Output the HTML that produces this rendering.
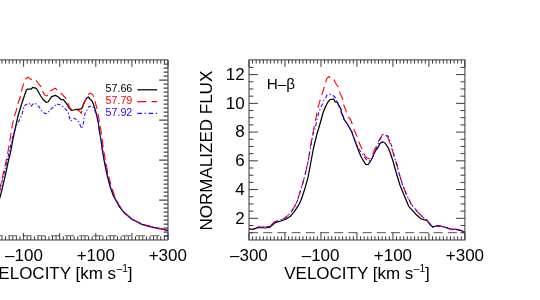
<!DOCTYPE html>
<html><head><meta charset="utf-8"><title>chart</title><style>html,body{margin:0;padding:0;background:#fff}body{width:540px;height:300px;overflow:hidden}</style></head><body><div style="will-change:transform;width:540px;height:300px">
<svg width="540" height="300" viewBox="0 0 540 300" style="display:block;font-family:'Liberation Sans',sans-serif">

<path d="M1.94,59.9v3.7M1.94,240.0v-3.7M5.55,59.9v3.7M5.55,240.0v-3.7M9.16,59.9v3.7M9.16,240.0v-3.7M12.77,59.9v3.7M12.77,240.0v-3.7M16.38,59.9v3.7M16.38,240.0v-3.7M19.99,59.9v3.7M19.99,240.0v-3.7M23.60,59.9v7.0M23.60,240.0v-7.0M27.21,59.9v3.7M27.21,240.0v-3.7M30.82,59.9v3.7M30.82,240.0v-3.7M34.43,59.9v3.7M34.43,240.0v-3.7M38.04,59.9v3.7M38.04,240.0v-3.7M41.65,59.9v3.7M41.65,240.0v-3.7M45.26,59.9v3.7M45.26,240.0v-3.7M48.87,59.9v3.7M48.87,240.0v-3.7M52.48,59.9v3.7M52.48,240.0v-3.7M56.09,59.9v3.7M56.09,240.0v-3.7M59.70,59.9v7.0M59.70,240.0v-7.0M63.31,59.9v3.7M63.31,240.0v-3.7M66.92,59.9v3.7M66.92,240.0v-3.7M70.53,59.9v3.7M70.53,240.0v-3.7M74.14,59.9v3.7M74.14,240.0v-3.7M77.75,59.9v3.7M77.75,240.0v-3.7M81.36,59.9v3.7M81.36,240.0v-3.7M84.97,59.9v3.7M84.97,240.0v-3.7M88.58,59.9v3.7M88.58,240.0v-3.7M92.19,59.9v3.7M92.19,240.0v-3.7M95.80,59.9v7.0M95.80,240.0v-7.0M99.41,59.9v3.7M99.41,240.0v-3.7M103.02,59.9v3.7M103.02,240.0v-3.7M106.63,59.9v3.7M106.63,240.0v-3.7M110.24,59.9v3.7M110.24,240.0v-3.7M113.85,59.9v3.7M113.85,240.0v-3.7M117.46,59.9v3.7M117.46,240.0v-3.7M121.07,59.9v3.7M121.07,240.0v-3.7M124.68,59.9v3.7M124.68,240.0v-3.7M128.29,59.9v3.7M128.29,240.0v-3.7M131.90,59.9v7.0M131.90,240.0v-7.0M135.51,59.9v3.7M135.51,240.0v-3.7M139.12,59.9v3.7M139.12,240.0v-3.7M142.73,59.9v3.7M142.73,240.0v-3.7M146.34,59.9v3.7M146.34,240.0v-3.7M149.95,59.9v3.7M149.95,240.0v-3.7M153.56,59.9v3.7M153.56,240.0v-3.7M157.17,59.9v3.7M157.17,240.0v-3.7M160.78,59.9v3.7M160.78,240.0v-3.7M164.39,59.9v3.7M164.39,240.0v-3.7M168.00,59.9v7.0M168.00,240.0v-7.0M249.00,59.9v7.0M249.00,240.0v-7.0M252.60,59.9v3.7M252.60,240.0v-3.7M256.20,59.9v3.7M256.20,240.0v-3.7M259.80,59.9v3.7M259.80,240.0v-3.7M263.39,59.9v3.7M263.39,240.0v-3.7M266.99,59.9v3.7M266.99,240.0v-3.7M270.59,59.9v3.7M270.59,240.0v-3.7M274.19,59.9v3.7M274.19,240.0v-3.7M277.79,59.9v3.7M277.79,240.0v-3.7M281.38,59.9v3.7M281.38,240.0v-3.7M284.98,59.9v7.0M284.98,240.0v-7.0M288.58,59.9v3.7M288.58,240.0v-3.7M292.18,59.9v3.7M292.18,240.0v-3.7M295.78,59.9v3.7M295.78,240.0v-3.7M299.38,59.9v3.7M299.38,240.0v-3.7M302.98,59.9v3.7M302.98,240.0v-3.7M306.57,59.9v3.7M306.57,240.0v-3.7M310.17,59.9v3.7M310.17,240.0v-3.7M313.77,59.9v3.7M313.77,240.0v-3.7M317.37,59.9v3.7M317.37,240.0v-3.7M320.97,59.9v7.0M320.97,240.0v-7.0M324.56,59.9v3.7M324.56,240.0v-3.7M328.16,59.9v3.7M328.16,240.0v-3.7M331.76,59.9v3.7M331.76,240.0v-3.7M335.36,59.9v3.7M335.36,240.0v-3.7M338.96,59.9v3.7M338.96,240.0v-3.7M342.56,59.9v3.7M342.56,240.0v-3.7M346.15,59.9v3.7M346.15,240.0v-3.7M349.75,59.9v3.7M349.75,240.0v-3.7M353.35,59.9v3.7M353.35,240.0v-3.7M356.95,59.9v7.0M356.95,240.0v-7.0M360.55,59.9v3.7M360.55,240.0v-3.7M364.15,59.9v3.7M364.15,240.0v-3.7M367.75,59.9v3.7M367.75,240.0v-3.7M371.34,59.9v3.7M371.34,240.0v-3.7M374.94,59.9v3.7M374.94,240.0v-3.7M378.54,59.9v3.7M378.54,240.0v-3.7M382.14,59.9v3.7M382.14,240.0v-3.7M385.74,59.9v3.7M385.74,240.0v-3.7M389.33,59.9v3.7M389.33,240.0v-3.7M392.93,59.9v7.0M392.93,240.0v-7.0M396.53,59.9v3.7M396.53,240.0v-3.7M400.13,59.9v3.7M400.13,240.0v-3.7M403.73,59.9v3.7M403.73,240.0v-3.7M407.33,59.9v3.7M407.33,240.0v-3.7M410.92,59.9v3.7M410.92,240.0v-3.7M414.52,59.9v3.7M414.52,240.0v-3.7M418.12,59.9v3.7M418.12,240.0v-3.7M421.72,59.9v3.7M421.72,240.0v-3.7M425.32,59.9v3.7M425.32,240.0v-3.7M428.92,59.9v7.0M428.92,240.0v-7.0M432.51,59.9v3.7M432.51,240.0v-3.7M436.11,59.9v3.7M436.11,240.0v-3.7M439.71,59.9v3.7M439.71,240.0v-3.7M443.31,59.9v3.7M443.31,240.0v-3.7M446.91,59.9v3.7M446.91,240.0v-3.7M450.51,59.9v3.7M450.51,240.0v-3.7M454.10,59.9v3.7M454.10,240.0v-3.7M457.70,59.9v3.7M457.70,240.0v-3.7M461.30,59.9v3.7M461.30,240.0v-3.7M464.90,59.9v7.0M464.90,240.0v-7.0M249.0,232.67h4.4M464.9,232.67h-4.4M249.0,225.49h4.4M464.9,225.49h-4.4M249.0,218.30h8.8M464.9,218.30h-8.8M249.0,211.12h4.4M464.9,211.12h-4.4M249.0,203.93h4.4M464.9,203.93h-4.4M249.0,196.75h4.4M464.9,196.75h-4.4M249.0,189.56h8.8M464.9,189.56h-8.8M249.0,182.38h4.4M464.9,182.38h-4.4M249.0,175.19h4.4M464.9,175.19h-4.4M249.0,168.01h4.4M464.9,168.01h-4.4M249.0,160.82h8.8M464.9,160.82h-8.8M249.0,153.64h4.4M464.9,153.64h-4.4M249.0,146.45h4.4M464.9,146.45h-4.4M249.0,139.27h4.4M464.9,139.27h-4.4M249.0,132.08h8.8M464.9,132.08h-8.8M249.0,124.90h4.4M464.9,124.90h-4.4M249.0,117.71h4.4M464.9,117.71h-4.4M249.0,110.53h4.4M464.9,110.53h-4.4M249.0,103.34h8.8M464.9,103.34h-8.8M249.0,96.16h4.4M464.9,96.16h-4.4M249.0,88.97h4.4M464.9,88.97h-4.4M249.0,81.79h4.4M464.9,81.79h-4.4M249.0,74.60h8.8M464.9,74.60h-8.8M249.0,67.42h4.4M464.9,67.42h-4.4" stroke="#383838" stroke-width="1.0" fill="none"/>
<path d="M168.0,64.10h-4.4M168.0,68.10h-4.4M168.0,72.10h-4.4M168.0,76.10h-4.4M168.0,80.10h-8.8M168.0,84.10h-4.4M168.0,88.10h-4.4M168.0,92.10h-4.4M168.0,96.10h-4.4M168.0,100.10h-4.4M168.0,104.10h-4.4M168.0,108.10h-4.4M168.0,112.10h-4.4M168.0,116.10h-4.4M168.0,120.10h-8.8M168.0,124.10h-4.4M168.0,128.10h-4.4M168.0,132.10h-4.4M168.0,136.10h-4.4M168.0,140.10h-4.4M168.0,144.10h-4.4M168.0,148.10h-4.4M168.0,152.10h-4.4M168.0,156.10h-4.4M168.0,160.10h-8.8M168.0,164.10h-4.4M168.0,168.10h-4.4M168.0,172.10h-4.4M168.0,176.10h-4.4M168.0,180.10h-4.4M168.0,184.10h-4.4M168.0,188.10h-4.4M168.0,192.10h-4.4M168.0,196.10h-4.4M168.0,200.10h-8.8M168.0,204.10h-4.4M168.0,208.10h-4.4M168.0,212.10h-4.4M168.0,216.10h-4.4M168.0,220.10h-4.4M168.0,224.10h-4.4M168.0,228.10h-4.4M168.0,232.10h-4.4M168.0,236.10h-4.4" stroke="#444" stroke-width="1.15" fill="none"/>
<path d="M-5,59.9H168.0V240.0H-5" stroke="#383838" stroke-width="1.0" fill="none"/>
<rect x="249.0" y="59.9" width="215.89999999999998" height="180.1" stroke="#383838" stroke-width="1.0" fill="none"/>
<path d="M249.0,232.67H464.9" stroke="#383838" stroke-width="0.85" stroke-dasharray="9.1 5.1" fill="none"/>
<path d="M-48.6,235.8H168.0" stroke="#383838" stroke-width="0.85" stroke-dasharray="9.1 5.1" fill="none"/>
<clipPath id="cl"><rect x="0" y="60" width="168" height="180"/></clipPath>
<g clip-path="url(#cl)">
<polyline points="-2.0,205.0 0.0,197.0 1.3,192.3 6.0,172.3 8.7,159.3 10.0,155.0 13.3,137.3 16.0,125.0 18.0,116.0 20.5,107.5 22.3,102.0 24.3,96.0 26.3,90.3 27.7,89.0 31.3,89.0 32.7,87.3 36.3,88.3 38.0,91.0 40.7,96.0 42.7,99.0 46.0,102.3 48.0,102.0 51.7,96.7 55.3,95.3 58.3,97.0 61.3,99.7 63.3,99.7 65.3,102.0 66.0,102.7 68.7,107.3 71.3,110.3 73.7,110.0 76.0,109.3 78.7,109.3 81.7,108.7 84.3,102.0 86.7,98.0 88.3,97.0 90.0,99.0 92.0,101.0 93.7,104.7 95.0,108.7 95.3,110.0 96.7,115.3 98.3,122.0 99.3,130.7 100.7,138.0 102.3,150.0 104.0,160.0 106.0,170.0 107.3,175.7 110.0,186.3 113.3,195.7 116.5,201.5 119.3,206.7 124.7,213.3 132.0,219.3 142.7,224.7 153.3,227.3 161.3,229.0 168.0,230.4" stroke="#000000" stroke-width="1.25" fill="none" stroke-linejoin="round"/>
<polyline points="-2.0,197.0 0.0,188.0 6.7,158.7 10.0,140.0 12.5,124.0 14.7,115.3 16.3,110.3 17.3,105.3 20.3,97.0 21.3,91.7 23.7,83.3 25.3,79.3 28.3,77.0 30.0,79.0 32.0,79.7 35.7,80.0 38.0,83.0 40.7,86.3 42.3,91.0 45.3,95.7 47.3,95.7 50.0,91.0 55.0,88.3 56.3,89.3 60.0,92.3 65.7,98.0 68.0,103.0 70.0,108.0 71.3,109.3 75.3,109.0 77.0,109.7 79.3,111.0 81.3,113.3 83.0,106.0 85.7,99.3 88.0,95.0 89.7,93.0 92.0,94.0 93.7,96.7 95.0,101.3 96.7,107.3 97.3,110.0 98.3,115.3 99.7,123.3 102.0,137.3 103.5,150.0 107.3,170.0 108.6,175.7 111.3,186.3 114.6,195.7 117.0,201.0 120.0,206.7 125.0,213.0 132.0,219.0 142.7,224.2 153.3,227.0 161.3,228.6 168.0,230.0" stroke="#ff0000" stroke-width="1.1" fill="none" stroke-linejoin="round" stroke-dasharray="8.3 4.5" stroke-dashoffset="6.96"/>
<polyline points="-2.0,198.0 0.0,190.0 4.5,172.0 8.5,155.0 12.5,137.3 16.7,125.0 19.5,120.0 21.7,115.3 22.7,111.3 23.3,108.3 24.3,105.7 26.7,104.3 29.3,103.3 31.0,106.3 33.3,103.7 35.3,103.3 37.3,105.0 39.7,107.7 41.3,110.3 43.3,112.3 45.3,113.7 48.0,112.7 49.7,110.3 52.7,107.7 54.3,106.3 56.3,103.7 59.7,104.7 62.3,106.0 64.7,108.3 67.3,111.0 68.7,114.0 69.3,117.3 70.7,121.0 72.7,119.7 74.3,118.3 76.7,119.7 78.7,122.0 80.0,124.7 81.3,128.5 82.7,126.3 83.3,123.3 84.0,119.3 84.5,116.0 85.3,112.3 87.3,109.7 88.7,106.7 91.3,106.0 94.0,108.0 95.3,112.0 97.0,118.0 98.7,125.3 100.7,138.7 102.8,150.0 104.5,160.0 106.5,170.0 107.8,175.7 110.5,186.3 113.8,195.7 116.8,201.5 119.6,206.7 124.9,213.3 132.0,219.5 142.7,225.0 153.3,227.6 161.3,229.3 168.0,230.8" stroke="#4000ff" stroke-width="1.1" fill="none" stroke-linejoin="round" stroke-dasharray="3.6 2 1.4 2" stroke-dashoffset="2.70"/>
</g>
<polyline points="249.0,229.0 253.0,229.4 258.3,227.3 265.0,228.0 269.7,227.3 273.0,224.6 275.7,222.3 281.0,221.0 286.3,219.0 290.3,216.3 294.3,211.7 298.3,205.7 301.0,200.3 304.7,189.3 308.0,177.3 310.0,167.0 313.3,149.0 316.7,134.8 318.5,129.0 320.5,122.0 323.3,112.0 325.3,107.3 327.7,102.3 330.0,99.7 333.7,99.0 335.0,101.7 337.3,102.3 339.3,106.3 341.0,109.0 341.3,112.7 343.3,116.7 344.2,119.7 347.3,124.0 350.0,128.7 351.7,131.7 354.2,138.7 356.0,144.0 358.5,150.5 360.7,156.0 363.3,160.7 365.7,164.3 368.0,164.7 370.0,162.0 372.3,158.0 374.3,153.0 376.0,150.0 378.0,147.6 379.8,143.7 382.3,141.7 385.0,143.0 387.3,146.3 388.3,148.0 390.7,154.3 393.0,161.0 396.0,172.0 400.0,185.3 404.0,195.0 408.7,206.3 415.3,213.7 421.3,219.0 426.7,220.3 430.7,225.0 432.7,227.0 438.0,225.7 444.7,227.0 451.3,229.4 456.7,229.4 460.7,230.3 465.0,232.3" stroke="#000000" stroke-width="1.25" fill="none" stroke-linejoin="round"/>
<polyline points="249.0,229.0 253.0,229.0 258.3,227.0 265.0,226.7 270.3,226.0 273.7,222.3 278.3,220.3 283.7,219.0 287.7,215.7 291.7,211.0 295.0,205.7 297.7,199.7 300.0,192.0 303.3,181.3 306.0,170.7 308.3,160.0 310.0,149.0 312.7,134.3 313.5,130.0 315.7,119.3 318.0,107.7 320.0,100.7 321.7,95.3 324.0,88.0 325.7,82.3 326.7,78.7 328.7,76.5 330.3,77.9 333.7,78.5 335.3,82.7 338.0,86.5 339.3,91.3 342.7,99.3 343.7,104.7 346.7,113.0 349.0,118.0 350.7,119.7 352.3,124.3 354.3,130.0 357.7,138.0 359.3,143.0 363.0,151.0 365.2,156.2 367.5,158.3 369.7,158.7 372.7,154.2 374.3,150.0 376.0,146.7 378.5,141.3 380.5,138.0 382.3,134.7 384.0,134.2 386.0,135.3 387.7,137.3 390.7,145.3 392.7,151.7 395.3,159.7 397.3,165.0 398.7,172.0 402.7,185.3 406.7,195.0 411.3,204.3 418.0,212.3 423.3,217.7 426.7,219.7 430.7,225.0 432.7,227.0 438.0,225.7 444.7,227.0 451.3,229.4 456.7,229.4 460.7,230.3 465.0,232.3" stroke="#ff0000" stroke-width="1.1" fill="none" stroke-linejoin="round" stroke-dasharray="8.6 4.8" stroke-dashoffset="5.25"/>
<polyline points="249.0,229.2 253.0,229.2 258.3,227.2 265.0,226.9 270.3,226.2 273.7,222.5 278.3,220.5 283.7,219.2 287.7,215.9 291.7,211.2 295.0,205.9 297.7,199.9 300.0,192.2 303.3,181.5 306.0,170.9 308.5,160.0 310.3,149.0 313.0,134.3 315.0,128.7 317.0,119.3 319.0,112.0 321.0,106.7 322.7,103.7 323.7,100.3 325.7,98.3 327.0,94.7 330.0,94.3 333.0,95.3 335.7,98.0 337.0,101.3 338.0,104.0 339.7,107.7 341.2,109.5 341.6,112.7 343.5,116.7 344.4,119.7 347.5,124.0 350.2,128.7 351.9,131.7 354.3,139.0 356.7,144.0 358.3,148.0 360.3,151.0 362.7,154.0 364.3,156.5 366.0,159.3 368.3,161.3 369.8,160.8 371.3,159.3 373.3,156.0 375.7,150.2 378.0,144.0 380.3,139.0 383.2,134.3 386.0,135.3 388.3,136.3 389.7,140.5 391.0,144.3 392.3,147.7 393.3,152.0 394.7,158.3 396.7,165.0 398.7,172.0 402.7,185.3 406.7,195.0 411.3,204.3 418.0,212.3 423.3,217.7 426.7,219.9 430.7,225.2 432.7,227.2 438.0,225.9 444.7,227.2 451.3,229.6 456.7,229.6 460.7,230.5 465.0,232.5" stroke="#4000ff" stroke-width="1.1" fill="none" stroke-linejoin="round" stroke-dasharray="4 2.3 1.4 2.3" stroke-dashoffset="2.45"/>
<text x="132.3" y="92.2" font-size="10.7" fill="#000" text-anchor="end">57.66</text>
<path d="M137.3,89.8H157.1" stroke="#000" stroke-width="1.25"/>
<text x="132.3" y="104.0" font-size="10.7" fill="#ff0000" text-anchor="end">57.79</text>
<path d="M137.3,101.6H157.1" stroke="#ff0000" stroke-width="1.1" stroke-dasharray="9 5.3"/>
<text x="132.3" y="115.8" font-size="10.7" fill="#4000ff" text-anchor="end">57.92</text>
<path d="M137.3,113.4H157.1" stroke="#4000ff" stroke-width="1.1" stroke-dasharray="4.7 2.5 1.4 2.7"/>
<text x="24.0" y="261.3" font-size="17" text-anchor="middle">–100</text>
<text x="95.8" y="261.3" font-size="17" text-anchor="middle">+100</text>
<text x="167.8" y="261.3" font-size="17" text-anchor="middle">+300</text>
<text x="248.9" y="261.3" font-size="17" text-anchor="middle">–300</text>
<text x="320.6" y="261.3" font-size="17" text-anchor="middle">–100</text>
<text x="392.9" y="261.3" font-size="17" text-anchor="middle">+100</text>
<text x="464.9" y="261.3" font-size="17" text-anchor="middle">+300</text>
<text x="244.6" y="223.6" font-size="17" text-anchor="end">2</text>
<text x="244.6" y="194.9" font-size="17" text-anchor="end">4</text>
<text x="244.6" y="166.1" font-size="17" text-anchor="end">6</text>
<text x="244.6" y="137.4" font-size="17" text-anchor="end">8</text>
<text x="244.6" y="108.6" font-size="17" text-anchor="end">10</text>
<text x="244.6" y="79.9" font-size="17" text-anchor="end">12</text>
<text x="357.0" y="279.3" font-size="17" text-anchor="middle">VELOCITY [km s<tspan font-size="10.2" dx="0.5" dy="-7.3">–1</tspan><tspan dy="7.3" dx="-0.1">]</tspan></text>
<text x="59.8" y="279.3" font-size="17" text-anchor="middle">VELOCITY [km s<tspan font-size="10.2" dx="0.5" dy="-7.3">–1</tspan><tspan dy="7.3" dx="-0.1">]</tspan></text>
<text transform="translate(212.3,150.6) rotate(-90)" font-size="17" text-anchor="middle">NORMALIZED FLUX</text>
<text x="266.8" y="88.7" font-size="15.3">H–β</text>
</svg>
</div></body></html>
